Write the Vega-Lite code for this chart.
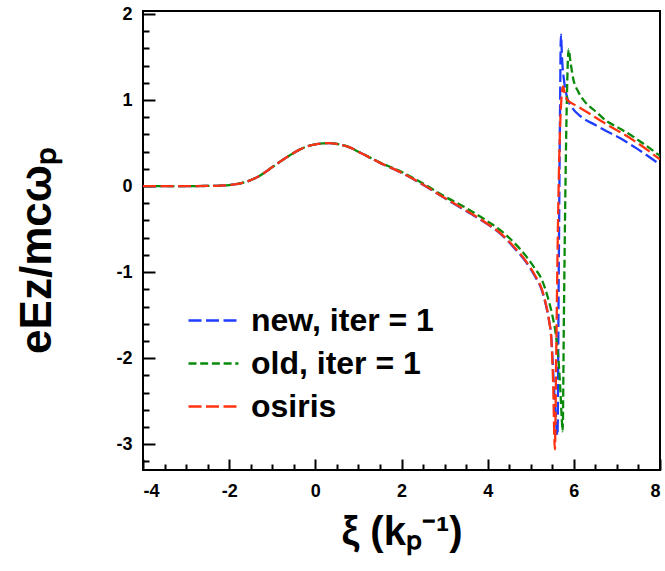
{
  "$schema": "https://vega.github.io/schema/vega-lite/v6.json",
  "width": 517,
  "height": 459,
  "autosize": {"type": "none"},
  "padding": {"left": 143, "top": 11, "right": 5, "bottom": 101},
  "background": "white",
  "data": {
    "values": [
      {"s": "new, iter = 1", "x": -4, "y": 0}, {"s": "new, iter = 1", "x": -3.5, "y": 0}, {"s": "new, iter = 1", "x": -3, "y": 0},
      {"s": "new, iter = 1", "x": -2.5, "y": 0.002}, {"s": "new, iter = 1", "x": -2.2, "y": 0.006}, {"s": "new, iter = 1", "x": -2, "y": 0.012},
      {"s": "new, iter = 1", "x": -1.8, "y": 0.025}, {"s": "new, iter = 1", "x": -1.6, "y": 0.05}, {"s": "new, iter = 1", "x": -1.4, "y": 0.09},
      {"s": "new, iter = 1", "x": -1.2, "y": 0.15}, {"s": "new, iter = 1", "x": -1.0, "y": 0.22}, {"s": "new, iter = 1", "x": -0.8, "y": 0.29},
      {"s": "new, iter = 1", "x": -0.6, "y": 0.355}, {"s": "new, iter = 1", "x": -0.4, "y": 0.415}, {"s": "new, iter = 1", "x": -0.2, "y": 0.46},
      {"s": "new, iter = 1", "x": 0, "y": 0.485}, {"s": "new, iter = 1", "x": 0.3, "y": 0.5}, {"s": "new, iter = 1", "x": 0.6, "y": 0.48},
      {"s": "new, iter = 1", "x": 0.8, "y": 0.45}, {"s": "new, iter = 1", "x": 1.0, "y": 0.4}, {"s": "new, iter = 1", "x": 1.5, "y": 0.27},
      {"s": "new, iter = 1", "x": 2.0, "y": 0.155}, {"s": "new, iter = 1", "x": 2.5, "y": 0.015}, {"s": "new, iter = 1", "x": 3.0, "y": -0.14},
      {"s": "new, iter = 1", "x": 3.5, "y": -0.29}, {"s": "new, iter = 1", "x": 4.0, "y": -0.445}, {"s": "new, iter = 1", "x": 4.3, "y": -0.555},
      {"s": "new, iter = 1", "x": 4.6, "y": -0.71}, {"s": "new, iter = 1", "x": 4.9, "y": -0.89}, {"s": "new, iter = 1", "x": 5.1, "y": -1.05},
      {"s": "new, iter = 1", "x": 5.25, "y": -1.2}, {"s": "new, iter = 1", "x": 5.35, "y": -1.38}, {"s": "new, iter = 1", "x": 5.42, "y": -1.55},
      {"s": "new, iter = 1", "x": 5.48, "y": -1.78}, {"s": "new, iter = 1", "x": 5.52, "y": -2.15}, {"s": "new, iter = 1", "x": 5.57, "y": -2.6},
      {"s": "new, iter = 1", "x": 5.62, "y": -2.9}, {"s": "new, iter = 1", "x": 5.65, "y": -1.0}, {"s": "new, iter = 1", "x": 5.68, "y": 0.9},
      {"s": "new, iter = 1", "x": 5.7, "y": 1.76}, {"s": "new, iter = 1", "x": 5.73, "y": 1.45}, {"s": "new, iter = 1", "x": 5.78, "y": 1.2},
      {"s": "new, iter = 1", "x": 5.85, "y": 1.02}, {"s": "new, iter = 1", "x": 5.95, "y": 0.92}, {"s": "new, iter = 1", "x": 6.16, "y": 0.81},
      {"s": "new, iter = 1", "x": 6.5, "y": 0.71}, {"s": "new, iter = 1", "x": 6.75, "y": 0.64}, {"s": "new, iter = 1", "x": 7.1, "y": 0.55},
      {"s": "new, iter = 1", "x": 7.42, "y": 0.45}, {"s": "new, iter = 1", "x": 8.0, "y": 0.25},

      {"s": "old, iter = 1", "x": -4, "y": 0}, {"s": "old, iter = 1", "x": -3.5, "y": 0}, {"s": "old, iter = 1", "x": -3, "y": 0},
      {"s": "old, iter = 1", "x": -2.5, "y": 0.002}, {"s": "old, iter = 1", "x": -2.2, "y": 0.006}, {"s": "old, iter = 1", "x": -2, "y": 0.012},
      {"s": "old, iter = 1", "x": -1.8, "y": 0.025}, {"s": "old, iter = 1", "x": -1.6, "y": 0.05}, {"s": "old, iter = 1", "x": -1.4, "y": 0.09},
      {"s": "old, iter = 1", "x": -1.2, "y": 0.15}, {"s": "old, iter = 1", "x": -1.0, "y": 0.22}, {"s": "old, iter = 1", "x": -0.8, "y": 0.29},
      {"s": "old, iter = 1", "x": -0.6, "y": 0.355}, {"s": "old, iter = 1", "x": -0.4, "y": 0.415}, {"s": "old, iter = 1", "x": -0.2, "y": 0.46},
      {"s": "old, iter = 1", "x": 0, "y": 0.485}, {"s": "old, iter = 1", "x": 0.3, "y": 0.5}, {"s": "old, iter = 1", "x": 0.6, "y": 0.48},
      {"s": "old, iter = 1", "x": 0.8, "y": 0.45}, {"s": "old, iter = 1", "x": 1.0, "y": 0.4}, {"s": "old, iter = 1", "x": 1.5, "y": 0.275},
      {"s": "old, iter = 1", "x": 2.0, "y": 0.165}, {"s": "old, iter = 1", "x": 2.5, "y": 0.03}, {"s": "old, iter = 1", "x": 3.0, "y": -0.12},
      {"s": "old, iter = 1", "x": 3.5, "y": -0.255}, {"s": "old, iter = 1", "x": 4.0, "y": -0.41}, {"s": "old, iter = 1", "x": 4.3, "y": -0.515},
      {"s": "old, iter = 1", "x": 4.6, "y": -0.65}, {"s": "old, iter = 1", "x": 4.9, "y": -0.82}, {"s": "old, iter = 1", "x": 5.1, "y": -0.96},
      {"s": "old, iter = 1", "x": 5.25, "y": -1.08}, {"s": "old, iter = 1", "x": 5.4, "y": -1.3}, {"s": "old, iter = 1", "x": 5.5, "y": -1.5},
      {"s": "old, iter = 1", "x": 5.58, "y": -1.72}, {"s": "old, iter = 1", "x": 5.64, "y": -2.0}, {"s": "old, iter = 1", "x": 5.68, "y": -2.3},
      {"s": "old, iter = 1", "x": 5.72, "y": -2.7}, {"s": "old, iter = 1", "x": 5.74, "y": -2.85}, {"s": "old, iter = 1", "x": 5.77, "y": -1.5},
      {"s": "old, iter = 1", "x": 5.8, "y": -0.2}, {"s": "old, iter = 1", "x": 5.83, "y": 0.8}, {"s": "old, iter = 1", "x": 5.88, "y": 1.59},
      {"s": "old, iter = 1", "x": 5.92, "y": 1.45}, {"s": "old, iter = 1", "x": 5.99, "y": 1.24}, {"s": "old, iter = 1", "x": 6.1, "y": 1.1},
      {"s": "old, iter = 1", "x": 6.24, "y": 0.99}, {"s": "old, iter = 1", "x": 6.5, "y": 0.87}, {"s": "old, iter = 1", "x": 6.75, "y": 0.76},
      {"s": "old, iter = 1", "x": 7.1, "y": 0.66}, {"s": "old, iter = 1", "x": 7.42, "y": 0.56}, {"s": "old, iter = 1", "x": 8.0, "y": 0.35},

      {"s": "osiris", "x": -4, "y": 0}, {"s": "osiris", "x": -3.5, "y": 0}, {"s": "osiris", "x": -3, "y": 0},
      {"s": "osiris", "x": -2.5, "y": 0.002}, {"s": "osiris", "x": -2.2, "y": 0.006}, {"s": "osiris", "x": -2, "y": 0.012},
      {"s": "osiris", "x": -1.8, "y": 0.025}, {"s": "osiris", "x": -1.6, "y": 0.05}, {"s": "osiris", "x": -1.4, "y": 0.09},
      {"s": "osiris", "x": -1.2, "y": 0.15}, {"s": "osiris", "x": -1.0, "y": 0.22}, {"s": "osiris", "x": -0.8, "y": 0.29},
      {"s": "osiris", "x": -0.6, "y": 0.355}, {"s": "osiris", "x": -0.4, "y": 0.415}, {"s": "osiris", "x": -0.2, "y": 0.46},
      {"s": "osiris", "x": 0, "y": 0.485}, {"s": "osiris", "x": 0.3, "y": 0.5}, {"s": "osiris", "x": 0.6, "y": 0.48},
      {"s": "osiris", "x": 0.8, "y": 0.45}, {"s": "osiris", "x": 1.0, "y": 0.4}, {"s": "osiris", "x": 1.5, "y": 0.27},
      {"s": "osiris", "x": 2.0, "y": 0.155}, {"s": "osiris", "x": 2.5, "y": 0.017}, {"s": "osiris", "x": 3.0, "y": -0.137},
      {"s": "osiris", "x": 3.5, "y": -0.285}, {"s": "osiris", "x": 4.0, "y": -0.44}, {"s": "osiris", "x": 4.3, "y": -0.55},
      {"s": "osiris", "x": 4.6, "y": -0.70}, {"s": "osiris", "x": 4.9, "y": -0.88}, {"s": "osiris", "x": 5.1, "y": -1.04},
      {"s": "osiris", "x": 5.25, "y": -1.19}, {"s": "osiris", "x": 5.35, "y": -1.37}, {"s": "osiris", "x": 5.42, "y": -1.55},
      {"s": "osiris", "x": 5.48, "y": -1.8}, {"s": "osiris", "x": 5.52, "y": -2.3}, {"s": "osiris", "x": 5.56, "y": -3.06},
      {"s": "osiris", "x": 5.59, "y": -2.0}, {"s": "osiris", "x": 5.63, "y": -0.5}, {"s": "osiris", "x": 5.67, "y": 0.5},
      {"s": "osiris", "x": 5.71, "y": 1.0}, {"s": "osiris", "x": 5.75, "y": 1.16}, {"s": "osiris", "x": 5.79, "y": 1.07},
      {"s": "osiris", "x": 5.85, "y": 1.0}, {"s": "osiris", "x": 6.08, "y": 0.93}, {"s": "osiris", "x": 6.4, "y": 0.83},
      {"s": "osiris", "x": 6.75, "y": 0.72}, {"s": "osiris", "x": 7.1, "y": 0.62}, {"s": "osiris", "x": 7.42, "y": 0.52},
      {"s": "osiris", "x": 8.0, "y": 0.31}
    ]
  },
  "layer": [
    {
      "mark": {"type": "line", "strokeOpacity": 0, "clip": true},
      "encoding": {
        "x": {
          "field": "x", "type": "quantitative",
          "scale": {"domain": [-4, 8], "nice": false, "zero": false},
          "axis": {
            "orient": "bottom",
            "values": [-3.5, -3, -2.5, -1.5, -1, -0.5, 0.5, 1, 1.5, 2.5, 3, 3.5, 4.5, 5, 5.5, 6.5, 7, 7.5],
            "labels": false, "tickSize": -6, "title": null, "domain": false
          }
        },
        "y": {
          "field": "y", "type": "quantitative",
          "scale": {"domain": [-3.3, 2.035], "nice": false, "zero": false},
          "axis": {
            "orient": "left",
            "values": [-3.2, -2.8, -2.6, -2.4, -2.2, -1.8, -1.6, -1.4, -1.2, -0.8, -0.6, -0.4, -0.2, 0.2, 0.4, 0.6, 0.8, 1.2, 1.4, 1.6, 1.8],
            "labels": false, "tickSize": -6, "title": null, "domain": false
          }
        },
        "detail": {"field": "s"}
      }
    },
    {
      "mark": {"type": "line", "strokeWidth": 2.3, "interpolate": "monotone", "clip": true},
      "encoding": {
        "x": {
          "field": "x", "type": "quantitative",
          "axis": {
            "orient": "bottom",
            "values": [-4, -2, 0, 2, 4, 6, 8],
            "labelExpr": "toString(datum.value)",
            "tickSize": -11,
            "title": "ξ (kₚ⁻¹)",
            "titleFontSize": 40,
            "titlePadding": 12,
            "labelPadding": 23
          }
        },
        "y": {
          "field": "y", "type": "quantitative",
          "axis": {
            "orient": "left",
            "values": [-3, -2, -1, 0, 1, 2],
            "labelExpr": "toString(datum.value)",
            "tickSize": -12,
            "title": "eEᴢ/mcωₚ",
            "titleFontSize": 44,
            "titlePadding": 56,
            "titleY": 239,
            "labelPadding": 23
          }
        },
        "color": {
          "field": "s", "type": "nominal",
          "scale": {"domain": ["new, iter = 1", "old, iter = 1", "osiris"], "range": ["#1f3dff", "#0a8a0a", "#ff3311"]},
          "legend": {"title": null, "orient": "none", "legendX": 44, "legendY": 283}
        },
        "strokeDash": {
          "field": "s", "type": "nominal",
          "scale": {"domain": ["new, iter = 1", "old, iter = 1", "osiris"], "range": [[13, 4.5], [8, 3.7], [13, 4.5]]},
          "legend": {"title": null, "orient": "none", "legendX": 44, "legendY": 283}
        }
      }
    }
  ],
  "resolve": {"axis": {"x": "independent", "y": "independent"}},
  "config": {
    "font": "Liberation Sans",
    "view": {"stroke": "black", "strokeWidth": 2},
    "axis": {
      "grid": false,
      "domain": false,
      "tickColor": "black",
      "tickWidth": 2,
      "labelFont": "Liberation Sans",
      "labelFontWeight": "bold",
      "labelFontSize": 18,
      "labelColor": "black",
      "titleFont": "Liberation Sans",
      "titleFontWeight": "bold",
      "titleColor": "black"
    },
    "legend": {
      "labelFont": "Liberation Sans",
      "labelFontWeight": "bold",
      "labelFontSize": 32,
      "labelColor": "black",
      "symbolType": "M-1,0L1,0",
      "symbolSize": 2500,
      "symbolStrokeWidth": 2.5,
      "rowPadding": -4,
      "labelOffset": 11,
      "labelLimit": 400
    }
  }
}
